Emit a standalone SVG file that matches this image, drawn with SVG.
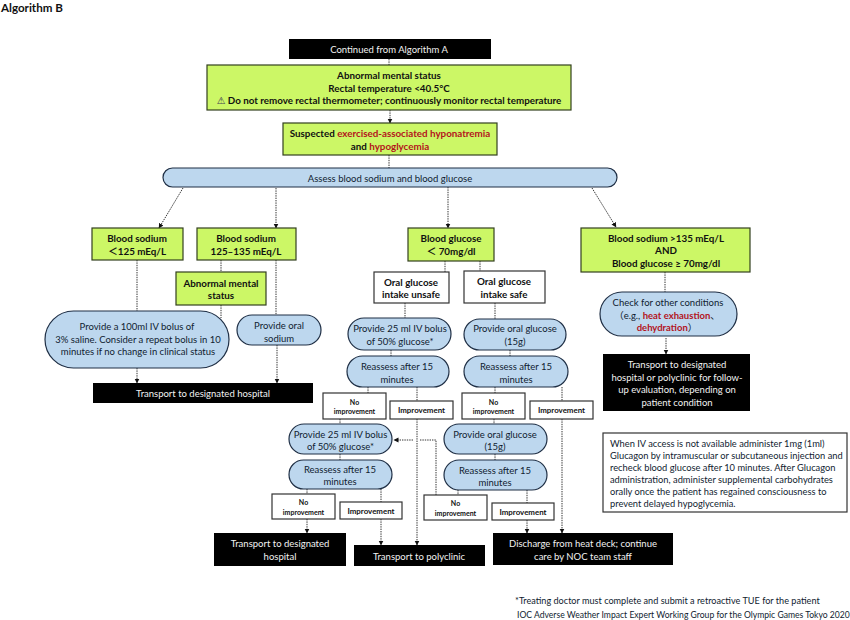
<svg xmlns="http://www.w3.org/2000/svg" width="850" height="620" viewBox="0 0 850 620">
<style>
text{font-family:Lato,"Noto Sans CJK JP",sans-serif;font-size:9.5px;fill:#101c30;text-anchor:middle}
.b{font-weight:700;font-size:9.8px;fill:#111}
.g{fill:#ccf766;stroke:#33401f;stroke-width:1.2}
.p{fill:#bdd7ee;stroke:#1f2f45;stroke-width:1.2}
.k{fill:#000;stroke:none}
.w{fill:#f2f2f2}
.o{fill:#fff;stroke:#333;stroke-width:1.2}
.s{font-size:7px}
.i{font-size:7.9px}
.r{fill:#b3141c;font-weight:700}
.l{text-anchor:start}
.n{font-size:9.3px}
.t{font-size:9.15px}
.f{font-size:8.6px}
#c path{fill:none;stroke:#333;stroke-width:1;stroke-dasharray:1.4 1}
</style>
<defs><marker id="a" markerWidth="6" markerHeight="6" refX="4.5" refY="2.5" orient="auto" markerUnits="userSpaceOnUse"><path d="M0 0L5 2.5L0 5z" fill="#111"/></marker></defs>
<text class="b l" x="1" y="11.5" style="font-size:11.6px">Algorithm B</text>
<g id="c">
<path d="M389 59V65M389 155V168M221 260V272M221 305V318M137 260V311M276 260V315M445 261V272M480 261V271M405 303V318M495 303V319M391 350V356M510 350V356M368 387V393M417 387V401M495 387V393M562 387V401M340 419V424M340 454V460M307 489V494M381 489V502M494 419V424M495 454V460M458 490V495M527 490V503M665 272V292"/>
<path marker-end="url(#a)" d="M390 110V123"/>
<path marker-end="url(#a)" d="M183 188L159 228"/>
<path marker-end="url(#a)" d="M276 188V228"/>
<path marker-end="url(#a)" d="M448 187V228"/>
<path marker-end="url(#a)" d="M592 188L616 227"/>
<path marker-end="url(#a)" d="M137 368V383"/>
<path marker-end="url(#a)" d="M277 345V383"/>
<path marker-end="url(#a)" d="M417 419V545"/>
<path marker-end="url(#a)" d="M562 419V533"/>
<path marker-end="url(#a)" d="M307 519V533"/>
<path marker-end="url(#a)" d="M381 519V545"/>
<path marker-end="url(#a)" d="M527 520V533"/>
<path marker-end="url(#a)" d="M666 338V354"/>
<path d="M436 495V440H420"/>
<path marker-end="url(#a)" d="M413 440H394"/>
</g>
<g id="n1"><rect class="k" x="289" y="39" width="202" height="20"/><text class="w" x="389" y="53">Continued from Algorithm A</text></g>
<g id="n2"><rect class="g" x="207" y="65" width="364" height="45"/><text class="b" x="389" y="79">Abnormal mental status</text><text class="b" x="389" y="91.5">Rectal temperature &lt;40.5°C</text><text class="b" x="389" y="104"><tspan style="font-family:'DejaVu Sans';font-weight:400;fill:#445">⚠</tspan> Do not remove rectal thermometer; continuously monitor rectal temperature</text></g>
<g id="n3"><rect class="g" x="283" y="123" width="214" height="32"/><text class="b" x="390" y="137">Suspected <tspan class="r">exercised-associated hyponatremia</tspan></text><text class="b" x="390" y="149.5">and <tspan class="r">hypoglycemia</tspan></text></g>
<g id="n4"><rect class="p" x="163" y="168" width="454" height="19" rx="9.5"/><text x="390" y="182">Assess blood sodium and blood glucose</text></g>
<g id="n5"><rect class="g" x="92" y="228" width="91" height="32"/><text class="b" x="137" y="242">Blood sodium</text><text class="b" x="137" y="254.5">＜125 mEq/L</text></g>
<g id="n6"><rect class="g" x="197" y="228" width="99" height="32"/><text class="b" x="246" y="242">Blood sodium</text><text class="b" x="246" y="254.5">125–135 mEq/L</text></g>
<g id="n7"><rect class="g" x="176" y="272" width="90" height="33"/><text class="b" x="221" y="286.5">Abnormal mental</text><text class="b" x="221" y="299">status</text></g>
<g id="n8"><rect class="p" x="45" y="311" width="184" height="57" rx="28.5"/><text x="137" y="330">Provide a 100ml IV bolus of</text><text x="138" y="342.5">3% saline. Consider a repeat bolus in 10</text><text x="138" y="355">minutes if no change in clinical status</text></g>
<g id="n9"><rect class="p" x="237" y="315" width="84" height="30" rx="15"/><text x="279" y="329">Provide oral</text><text x="279" y="341.5">sodium</text></g>
<g id="n10"><rect class="k" x="93" y="383" width="220" height="20"/><text class="w" x="203" y="397">Transport to designated hospital</text></g>
<g id="n11"><rect class="g" x="408" y="228" width="86" height="33"/><text class="b" x="451" y="242">Blood glucose</text><text class="b" x="451" y="254.5">＜ 70mg/dl</text></g>
<g id="n12"><rect class="o" x="374" y="272" width="75" height="31"/><text class="b" x="411" y="286">Oral glucose</text><text class="b" x="411" y="298">intake unsafe</text></g>
<g id="n13"><rect class="o" x="464" y="271" width="81" height="32"/><text class="b" x="504" y="285">Oral glucose</text><text class="b" x="504" y="298">intake safe</text></g>
<g id="n14"><rect class="p" x="348" y="318" width="103" height="32" rx="16"/><text x="400" y="332">Provide 25 ml IV bolus</text><text x="400" y="344.5">of 50% glucose*</text></g>
<g id="n15"><rect class="p" x="464" y="319" width="102" height="31" rx="15.5"/><text x="515" y="332">Provide oral glucose</text><text x="515" y="344.5">(15g)</text></g>
<g id="n16"><rect class="p" x="347" y="356" width="102" height="31" rx="15.5"/><text x="397" y="370">Reassess after 15</text><text x="397" y="383">minutes</text></g>
<g id="n17"><rect class="p" x="464" y="356" width="104" height="31" rx="15.5"/><text x="516" y="370">Reassess after 15</text><text x="516" y="383">minutes</text></g>
<g id="n18"><rect class="o" x="323" y="393" width="63" height="26"/><text class="b s" x="354.5" y="404.5">No</text><text class="b s" x="354.5" y="413.5">improvement</text></g>
<g id="n19"><rect class="o" x="390" y="401" width="63" height="18"/><text class="b i" x="421.5" y="413">Improvement</text></g>
<g id="n20"><rect class="o" x="462" y="393" width="63" height="26"/><text class="b s" x="493.5" y="404.5">No</text><text class="b s" x="493.5" y="413.5">improvement</text></g>
<g id="n21"><rect class="o" x="530" y="401" width="63" height="18"/><text class="b i" x="561.5" y="413">Improvement</text></g>
<g id="n22"><rect class="p" x="289" y="424" width="103" height="30" rx="15"/><text x="340.5" y="437.5">Provide 25 ml IV bolus</text><text x="340.5" y="450">of 50% glucose*</text></g>
<g id="n23"><rect class="p" x="444" y="424" width="103" height="30" rx="15"/><text x="495" y="437.5">Provide oral glucose</text><text x="495" y="450">(15g)</text></g>
<g id="n24"><rect class="p" x="289" y="460" width="103" height="29" rx="14.5"/><text x="340" y="472.5">Reassess after 15</text><text x="340" y="485">minutes</text></g>
<g id="n25"><rect class="p" x="444" y="460" width="103" height="30" rx="15"/><text x="495" y="473.5">Reassess after 15</text><text x="495" y="486">minutes</text></g>
<g id="n26"><rect class="o" x="272" y="494" width="63" height="25"/><text class="b s" x="303.5" y="505">No</text><text class="b s" x="303.5" y="514.5">improvement</text></g>
<g id="n27"><rect class="o" x="340" y="502" width="62" height="17"/><text class="b i" x="371" y="513.5">Improvement</text></g>
<g id="n28"><rect class="o" x="424" y="495" width="63" height="25"/><text class="b s" x="455.5" y="506">No</text><text class="b s" x="455.5" y="515.5">improvement</text></g>
<g id="n29"><rect class="o" x="492" y="503" width="62" height="17"/><text class="b i" x="523" y="515">Improvement</text></g>
<g id="n30"><rect class="k" x="214" y="533" width="132" height="33"/><text class="w" x="280" y="547">Transport to designated</text><text class="w" x="280" y="560">hospital</text></g>
<g id="n31"><rect class="k" x="354" y="545" width="131" height="21"/><text class="w" x="419" y="560">Transport to polyclinic</text></g>
<g id="n32"><rect class="k" x="493" y="533" width="180" height="32"/><text class="w" x="583" y="547">Discharge from heat deck; continue</text><text class="w" x="583" y="559.5">care by NOC team staff</text></g>
<g id="n33"><rect class="g" x="581" y="228" width="169" height="44"/><text class="b" x="666" y="241.5">Blood sodium &gt;135 mEq/L</text><text class="b" x="666" y="254">AND</text><text class="b" x="666" y="266.5">Blood glucose ≥ 70mg/dl</text></g>
<g id="n34"><rect class="p" x="600" y="292" width="137" height="44" rx="22"/><text x="668" y="306">Check for other conditions</text><text x="667" y="318.5">（e.g., <tspan class="r">heat exhaustion</tspan>、</text><text x="667" y="331"><tspan class="r">dehydration</tspan>）</text></g>
<g id="n35"><rect class="k" x="603" y="354" width="147" height="57"/><text class="w" x="677" y="368">Transport to designated</text><text class="w" x="677" y="380.5">hospital or polyclinic for follow-</text><text class="w" x="677" y="393">up evaluation, depending on</text><text class="w" x="677" y="405.5">patient condition</text></g>
<g id="n36"><rect class="o" x="603" y="433" width="244" height="79"/><text class="l n" x="610" y="447">When IV access is not available administer 1mg (1ml)</text><text class="l n" x="610" y="459">Glucagon by intramuscular or subcutaneous injection and</text><text class="l n" x="610" y="471">recheck blood glucose after 10 minutes.  After Glucagon</text><text class="l n" x="610" y="483">administration, administer supplemental carbohydrates</text><text class="l n" x="610" y="495">orally once the patient has regained consciousness to</text><text class="l n" x="610" y="507">prevent delayed hypoglycemia.</text></g>
<text class="l t" x="515" y="604">*Treating doctor must complete and submit a retroactive TUE for the patient</text>
<text class="l f" x="517" y="618">IOC Adverse Weather Impact Expert Working Group for the Olympic Games Tokyo 2020</text>
</svg>
